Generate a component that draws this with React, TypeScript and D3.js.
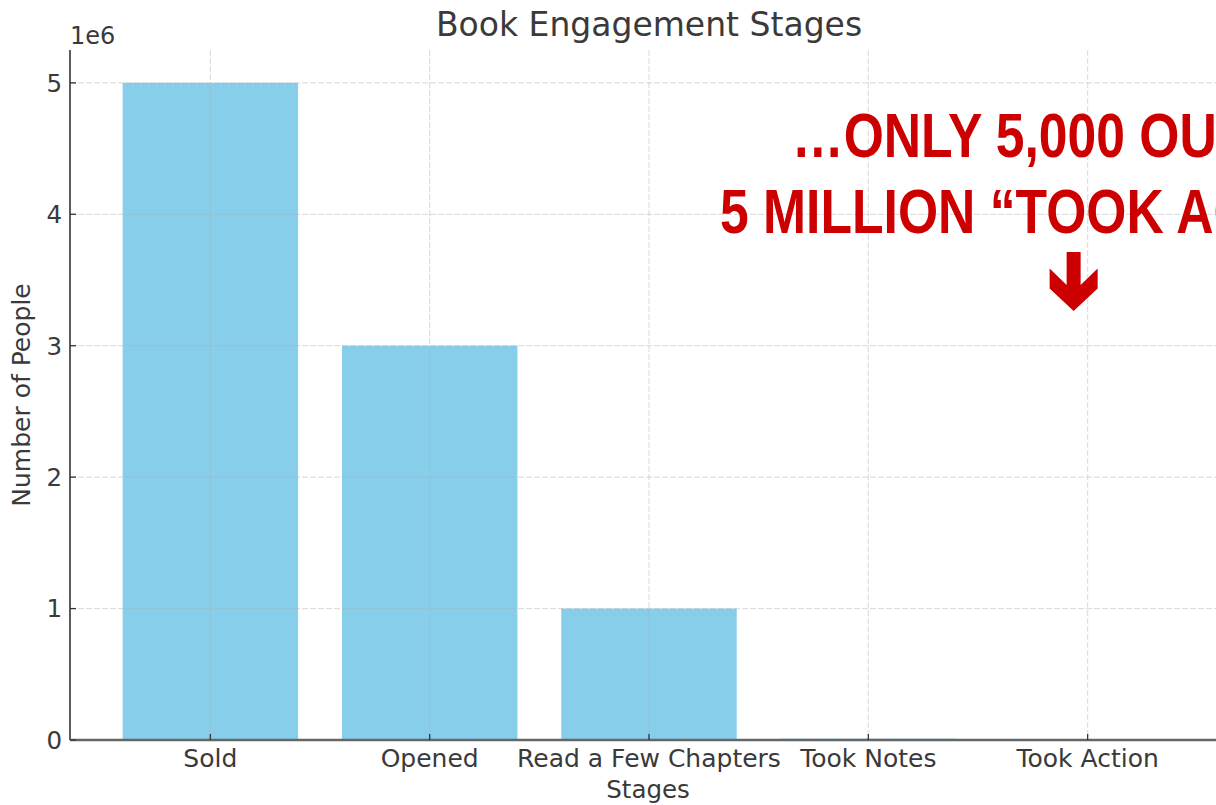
import React from "react";
import * as d3 from "d3";

const stages: string[] = ["Sold", "Opened", "Read a Few Chapters", "Took Notes", "Took Action"];
const people: number[] = [5000000, 3000000, 1000000, 10000, 5000];
const yTicks: number[] = [0, 1, 2, 3, 4, 5];
const annotationLines: string[] = ["…ONLY 5,000 OUT OF", "5 MILLION “TOOK ACTION”"];

const W = 1216;
const H = 805;
const FONT = "'DejaVu Sans', sans-serif";

export default function App() {
  const left = 70;
  const right = 1228;
  const top = 50;
  const bottom = 740;

  const x = d3.scaleLinear().domain([-0.64, stages.length - 1 + 0.64]).range([left, right]);
  const y = d3.scaleLinear().domain([0, 5.25e6]).range([bottom, top]);
  const barW = x(0.4) - x(-0.4);
  const actionX = x(stages.length - 1);

  const arrowShape: [number, number][] = [
    [-7, 0], [7, 0], [7, 33], [24, 16.5], [24, 36.5], [0, 59], [-24, 36.5], [-24, 16.5], [-7, 33],
  ];
  const arrowCx = actionX - 14;
  const arrowTop = 252;

  return (
    <svg width={W} height={H} style={{ position: "absolute", left: 0, top: 0, background: "#fff" }}>
      <rect x={0} y={0} width={W} height={H} fill="#fff" />
      {people.map((v, i) => (
        <rect
          key={stages[i]}
          x={x(i) - barW / 2}
          y={y(v)}
          width={barW}
          height={Math.max(0, y(0) - y(v))}
          fill="#87CEEB"
        />
      ))}
      {yTicks.map((t) => (
        <line key={"gy" + t} x1={left} x2={right} y1={y(t * 1e6)} y2={y(t * 1e6)}
          stroke="#b0b0b0" strokeOpacity={0.4} strokeWidth={1.2} strokeDasharray="6,2" />
      ))}
      {stages.map((s, i) => (
        <line key={"gx" + s} x1={x(i)} x2={x(i)} y1={top} y2={bottom}
          stroke="#b0b0b0" strokeOpacity={0.4} strokeWidth={1.2} strokeDasharray="6,2" />
      ))}
      <line x1={left} x2={left} y1={top} y2={bottom} stroke="#333" strokeWidth={1.6} />
      <line x1={left} x2={right} y1={bottom} y2={bottom} stroke="#666" strokeWidth={2.4} />
      {yTicks.map((t) => (
        <g key={"ty" + t}>
          <line x1={left} x2={left + 6} y1={y(t * 1e6)} y2={y(t * 1e6)} stroke="#333" strokeWidth={1.3} />
          <text x={left - 8} y={y(t * 1e6)} dy="0.36em" textAnchor="end" fontFamily={FONT}
            fontSize={24.5} fill="#3a3a3a">{t}</text>
        </g>
      ))}
      <text x={left} y={44} fontFamily={FONT} fontSize={24} fill="#3a3a3a">1e6</text>
      {stages.map((s, i) => (
        <g key={"tx" + s}>
          <line x1={x(i)} x2={x(i)} y1={bottom} y2={bottom - 6} stroke="#333" strokeWidth={1.3} />
          <text x={x(i)} y={767} textAnchor="middle" fontFamily={FONT} fontSize={25} fill="#3a3a3a">{s}</text>
        </g>
      ))}
      <text x={(left + right) / 2 - 1} y={798} textAnchor="middle" fontFamily={FONT} fontSize={24.5} fill="#3a3a3a">Stages</text>
      <text transform={`translate(30, ${(top + bottom) / 2}) rotate(-90)`} textAnchor="middle"
        fontFamily={FONT} fontSize={25} fill="#3a3a3a">Number of People</text>
      <text x={(left + right) / 2} y={36} textAnchor="middle" fontFamily={FONT} fontSize={33} fill="#3a3a3a">
        Book Engagement Stages
      </text>
      <text transform="translate(792,157) scale(0.82,1)" fontFamily="'Liberation Sans', Arial, sans-serif"
        fontWeight="bold" fontSize={63} fill="#CC0000">{annotationLines[0]}</text>
      <text transform="translate(720,233) scale(0.82,1)" fontFamily="'Liberation Sans', Arial, sans-serif"
        fontWeight="bold" fontSize={63} fill="#CC0000">{annotationLines[1]}</text>
      <polygon
        points={arrowShape.map(([dx, dy]) => `${arrowCx + dx},${arrowTop + dy}`).join(" ")}
        fill="#CC0000"
      />
    </svg>
  );
}
